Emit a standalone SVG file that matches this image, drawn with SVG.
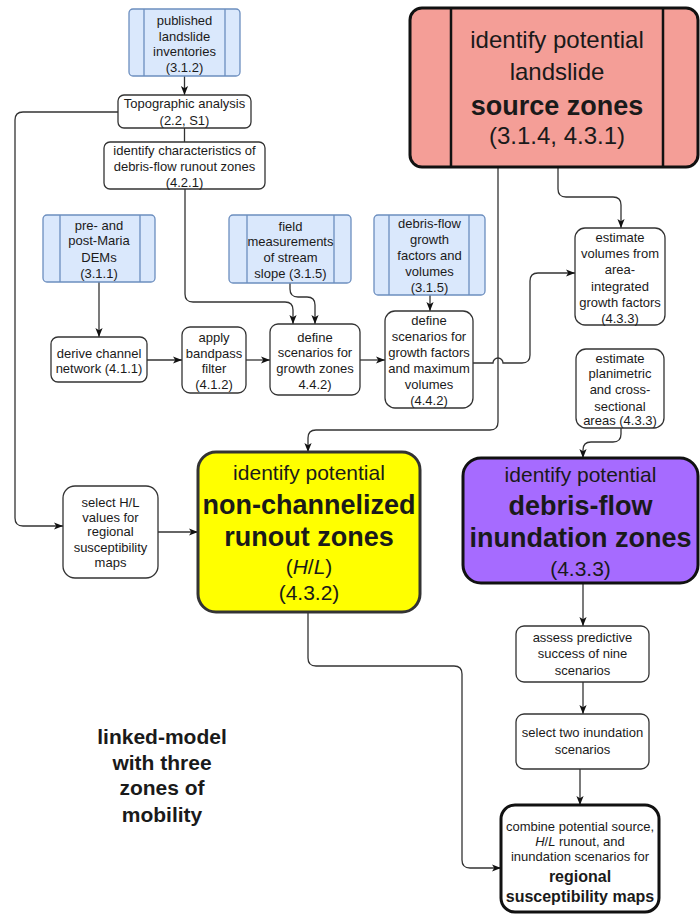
<svg xmlns="http://www.w3.org/2000/svg" width="700" height="915" viewBox="0 0 700 915">
<defs>
<style>
.n{fill:#fff;stroke:#333;stroke-width:1.3}
.b{fill:#dae8fc;stroke:#6c8ebf;stroke-width:1.3}
.bl{stroke:#6c8ebf;stroke-width:1.3}
.t{font-family:"Liberation Sans",Arial,sans-serif;font-size:13px;fill:#1a1a1a;text-anchor:middle}
.big{font-size:21px}
.bold{font-weight:bold}
.c path{fill:none;stroke:#333;stroke-width:1.3}
</style>
<marker id="a" viewBox="0 0 10 10" refX="10" refY="5" markerWidth="9" markerHeight="9" markerUnits="userSpaceOnUse" orient="auto">
<path d="M0,1 L10,5 L0,9 L2.5,5 z" fill="#111"/>
</marker>
</defs>
<rect width="700" height="915" fill="#fff"/>

<g class="c">
<path d="M184.5 76 V95" marker-end="url(#a)"/>
<path d="M184.5 128 V142"/>
<path d="M118 112 H23 Q15 112 15 120 V518 Q15 526 23 526 H63" marker-end="url(#a)"/>
<path d="M185 189 V294 Q185 302 193 302 H285 Q293 302 293 310 V324" marker-end="url(#a)"/>
<path d="M290 283 V289 Q290 297 298 297 H307 Q315 297 315 305 V324" marker-end="url(#a)"/>
<path d="M99 282 V337" marker-end="url(#a)"/>
<path d="M147 360 H182" marker-end="url(#a)"/>
<path d="M246 360 H270" marker-end="url(#a)"/>
<path d="M360 360 H385" marker-end="url(#a)"/>
<path d="M430 295 V311" marker-end="url(#a)"/>
<path d="M473 363 H493 A5 5 0 0 1 503 363 H522 Q530 363 530 355 V281 Q530 273 538 273 H575" marker-end="url(#a)"/>
<path d="M498 167 V422 Q498 430 490 430 H316 Q308 430 308 438 V452" marker-end="url(#a)"/>
<path d="M558 167 V189 Q558 197 566 197 H613 Q621 197 621 205 V228" marker-end="url(#a)"/>
<path d="M621 428 V434 Q621 442 613 442 H591 Q583 442 583 450 V458" marker-end="url(#a)"/>
<path d="M158 532 H198" marker-end="url(#a)"/>
<path d="M583 583 V626" marker-end="url(#a)"/>
<path d="M583 682 V714" marker-end="url(#a)"/>
<path d="M580 769 V805" marker-end="url(#a)"/>
<path d="M308 612 V658 Q308 666 316 666 H454 Q462 666 462 674 V860 Q462 868 470 868 H501" marker-end="url(#a)"/>
</g>

<g id="published">
<rect class="b" x="129" y="9" width="111" height="67" rx="4"/>
<path class="bl" d="M144 9 V76 M225 9 V76"/>
<text class="t" x="184.5"><tspan x="184.5" y="24.5">published</tspan><tspan x="184.5" y="40.5">landslide</tspan><tspan x="184.5" y="55.5">inventories</tspan><tspan x="184.5" y="71.5">(3.1.2)</tspan></text>
</g>

<g id="topographic">
<rect class="n" x="118" y="95" width="133" height="33" rx="6"/>
<text class="t"><tspan x="184.5" y="107.5">Topographic analysis</tspan><tspan x="184.5" y="124.5">(2.2, S1)</tspan></text>
</g>

<g id="characteristics">
<rect class="n" x="104" y="142" width="161" height="47" rx="6"/>
<text class="t"><tspan x="184.5" y="154.5">identify characteristics of</tspan><tspan x="184.5" y="170.5">debris-flow runout zones</tspan><tspan x="184.5" y="187">(4.2.1)</tspan></text>
</g>

<g id="source">
<rect x="410" y="8" width="288" height="159" rx="12" fill="#f49e97" stroke="#111" stroke-width="3"/>
<path d="M451 8 V167 M663 8 V167" stroke="#111" stroke-width="2.5"/>
<text class="t" style="font-size:24px"><tspan x="557" y="48">identify potential</tspan><tspan x="557" y="80">landslide</tspan><tspan x="557" y="115" class="bold" style="font-size:27px">source zones</tspan><tspan x="557" y="144">(3.1.4, 4.3.1)</tspan></text>
</g>

<g id="dems">
<rect class="b" x="43" y="215" width="112" height="67" rx="4"/>
<path class="bl" d="M60 215 V282 M140 215 V282"/>
<text class="t"><tspan x="99" y="229.5">pre- and</tspan><tspan x="99" y="244.5">post-Maria</tspan><tspan x="99" y="261.5">DEMs</tspan><tspan x="99" y="277.5">(3.1.1)</tspan></text>
</g>

<g id="field">
<rect class="b" x="229" y="215" width="122" height="68" rx="4"/>
<path class="bl" d="M247 215 V283 M334 215 V283"/>
<text class="t"><tspan x="290.5" y="230.5">field</tspan><tspan x="290.5" y="245.5">measurements</tspan><tspan x="290.5" y="261.5">of stream</tspan><tspan x="290.5" y="277.5">slope (3.1.5)</tspan></text>
</g>

<g id="growthdata">
<rect class="b" x="374" y="215" width="111" height="80" rx="4"/>
<path class="bl" d="M389 215 V295 M469 215 V295"/>
<text class="t"><tspan x="429.5" y="227.5">debris-flow</tspan><tspan x="429.5" y="243.5">growth</tspan><tspan x="429.5" y="259.5">factors and</tspan><tspan x="429.5" y="275.5">volumes</tspan><tspan x="429.5" y="291.5">(3.1.5)</tspan></text>
</g>

<g id="derive">
<rect class="n" x="51" y="337" width="96" height="45" rx="7"/>
<text class="t"><tspan x="99" y="357.5">derive channel</tspan><tspan x="99" y="372.5">network (4.1.1)</tspan></text>
</g>

<g id="bandpass">
<rect class="n" x="182" y="327" width="64" height="66" rx="8"/>
<text class="t"><tspan x="214" y="341.5">apply</tspan><tspan x="214" y="357.5">bandpass</tspan><tspan x="214" y="372.5">filter</tspan><tspan x="214" y="388.5">(4.1.2)</tspan></text>
</g>

<g id="growthzones">
<rect class="n" x="270" y="324" width="90" height="71" rx="8"/>
<text class="t"><tspan x="315" y="341.5">define</tspan><tspan x="315" y="356.5">scenarios for</tspan><tspan x="315" y="372.5">growth zones</tspan><tspan x="315" y="388.5">4.4.2)</tspan></text>
</g>

<g id="growthfactors">
<rect class="n" x="385" y="311" width="88" height="97" rx="10"/>
<text class="t"><tspan x="429" y="324.5">define</tspan><tspan x="429" y="340.5">scenarios for</tspan><tspan x="429" y="356.5">growth factors</tspan><tspan x="429" y="372.5">and maximum</tspan><tspan x="429" y="388.5">volumes</tspan><tspan x="429" y="404.5">(4.4.2)</tspan></text>
</g>

<g id="volumes">
<rect class="n" x="575" y="228" width="90" height="97" rx="10"/>
<text class="t"><tspan x="620" y="241.5">estimate</tspan><tspan x="620" y="257.5">volumes from</tspan><tspan x="620" y="273.5">area-</tspan><tspan x="620" y="290.5">integrated</tspan><tspan x="620" y="306.5">growth factors</tspan><tspan x="620" y="322.5">(4.3.3)</tspan></text>
</g>

<g id="planimetric">
<rect class="n" x="576" y="349" width="88" height="79" rx="10"/>
<text class="t"><tspan x="620" y="362.5">estimate</tspan><tspan x="620" y="377.5">planimetric</tspan><tspan x="620" y="393.5">and cross-</tspan><tspan x="620" y="410.5">sectional</tspan><tspan x="620" y="424.5">areas (4.3.3)</tspan></text>
</g>

<g id="selecthl">
<rect class="n" x="63" y="486" width="95" height="92" rx="12"/>
<text class="t"><tspan x="110.5" y="506.5">select H/L</tspan><tspan x="110.5" y="521.5">values for</tspan><tspan x="110.5" y="535.5">regional</tspan><tspan x="110.5" y="551.5">susceptibility</tspan><tspan x="110.5" y="566.5">maps</tspan></text>
</g>

<g id="runout">
<rect x="198" y="452" width="222" height="160" rx="18" fill="#ffff00" stroke="#333" stroke-width="3"/>
<text class="t big"><tspan x="309" y="480">identify potential</tspan><tspan x="309" y="514" class="bold" style="font-size:27px">non-channelized</tspan><tspan x="309" y="546" class="bold" style="font-size:27px">runout zones</tspan><tspan x="309" y="574">(<tspan font-style="italic">H</tspan>/<tspan font-style="italic">L</tspan>)</tspan><tspan x="309" y="600">(4.3.2)</tspan></text>
</g>

<g id="inundation">
<rect x="463" y="458" width="235" height="125" rx="18" fill="#a66bff" stroke="#111" stroke-width="3"/>
<text class="t big"><tspan x="580.5" y="482">identify potential</tspan><tspan x="580.5" y="515" class="bold" style="font-size:27px">debris-flow</tspan><tspan x="580.5" y="547" class="bold" style="font-size:27px">inundation zones</tspan><tspan x="580.5" y="576">(4.3.3)</tspan></text>
</g>

<g id="assess">
<rect class="n" x="516" y="626" width="133" height="56" rx="8"/>
<text class="t"><tspan x="582.5" y="642">assess predictive</tspan><tspan x="582.5" y="658">success of nine</tspan><tspan x="582.5" y="675">scenarios</tspan></text>
</g>

<g id="selecttwo">
<rect class="n" x="516" y="714" width="133" height="55" rx="8"/>
<text class="t"><tspan x="582.5" y="737">select two inundation</tspan><tspan x="582.5" y="754">scenarios</tspan></text>
</g>

<g id="combine">
<rect x="501" y="805" width="158" height="107" rx="14" fill="#fff" stroke="#111" stroke-width="3"/>
<text class="t"><tspan x="580" y="831">combine potential source,</tspan><tspan x="580" y="846"><tspan font-style="italic">H</tspan>/<tspan font-style="italic">L</tspan> runout, and</tspan><tspan x="580" y="861">inundation scenarios for</tspan><tspan x="580" y="881.5" class="bold" style="font-size:16px">regional</tspan><tspan x="580" y="901.5" class="bold" style="font-size:16px">susceptibility maps</tspan></text>
</g>

<g id="label">
<text class="t bold" style="font-size:21px"><tspan x="162" y="744">linked-model</tspan><tspan x="162" y="770">with three</tspan><tspan x="162" y="795">zones of</tspan><tspan x="162" y="822">mobility</tspan></text>
</g>
</svg>
